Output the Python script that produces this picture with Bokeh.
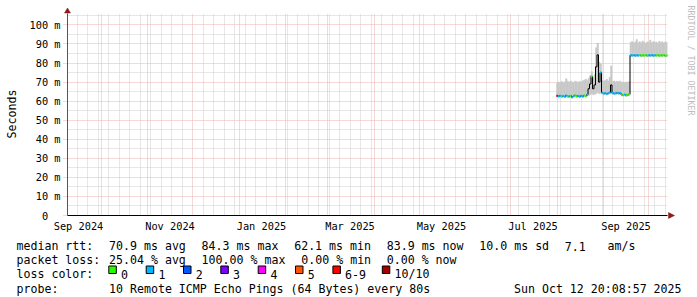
import math
import pandas as pd
from bokeh.plotting import figure
from bokeh.models import (ColumnDataSource, FixedTicker, Grid, Range1d,
                          DatetimeTickFormatter, GridBox)
from bokeh.core.properties import value
from bokeh.embed import file_html
from bokeh.resources import INLINE

# ---------------- data ----------------
series_start = "2025-07-31 16:00"      # first consolidated (1 day) step

median_ms = [62.8, 62.6, 62.9, 62.5, 62.7, 62.4, 63.0, 62.6, 62.5, 62.9,
             62.1, 62.7, 63.1, 62.6, 62.8, 62.4, 62.9, 62.5, 63.0, 62.7,
             63.4, 66.5, 69.0, 73.0, 66.5, 68.5, 78.0, 84.3, 70.0, 75.0,
             64.5, 64.0, 64.2, 63.9, 64.1, 64.6, 68.5, 64.3, 64.0, 64.2,
             64.4, 64.1, 64.3, 63.4, 63.2, 63.5, 63.1, 63.3, 63.6, 84.1,
             84.0, 84.2, 83.9, 84.1, 84.0, 84.2, 83.9, 84.1, 84.0, 84.2,
             83.9, 84.1, 84.0, 84.2, 83.9, 84.1, 84.0, 84.2, 83.9, 84.1,
             84.0, 84.2, 83.9, 83.9]

smoke_hi_ms = [69.5, 70.0, 69.8, 70.3, 69.6, 70.1, 71.8, 70.4, 69.9, 70.6,
               70.0, 69.7, 70.5, 70.2, 69.8, 70.4, 70.0, 70.7, 71.0, 71.6,
               70.8, 72.0, 73.5, 75.5, 72.5, 74.0, 88.0, 90.5, 80.5, 79.5,
               71.0, 70.5, 70.8, 71.5, 70.6, 72.5, 78.5, 70.3, 70.6, 70.1,
               70.5, 70.2, 70.6, 69.8, 70.0, 69.7, 70.1, 69.9, 70.3, 90.8,
               91.3, 90.5, 91.0, 92.3, 90.7, 91.2, 90.6, 91.5, 90.9, 90.4,
               91.1, 90.8, 92.0, 90.6, 91.3, 90.7, 91.0, 90.5, 91.4, 90.8,
               91.2, 90.6, 91.1, 90.9]

smoke_lo_ms = [62.2, 62.0, 62.3, 61.9, 62.1, 61.8, 62.4, 62.0, 61.9, 62.3,
               61.6, 62.1, 62.5, 62.0, 62.2, 61.8, 62.3, 61.9, 62.4, 62.1,
               62.8, 63.0, 63.5, 64.0, 63.4, 63.6, 64.0, 64.5, 64.0, 64.2,
               63.9, 63.4, 63.6, 63.3, 63.5, 63.9, 63.8, 63.7, 63.4, 63.6,
               63.8, 63.5, 63.7, 62.8, 62.6, 62.9, 62.5, 62.7, 63.0, 83.5,
               83.4, 83.6, 83.3, 83.5, 83.4, 83.6, 83.3, 83.5, 83.4, 83.6,
               83.3, 83.5, 83.4, 83.6, 83.3, 83.5, 83.4, 83.6, 83.3, 83.5,
               83.4, 83.6, 83.3, 83.3]

# loss bucket of the median line per step (None = averaged loss between buckets)
loss_bucket = [6, 1, 1, 0, 1, 1, 1, 0, 1, 0,
               1, 1, 0, 0, 1, 1, 1, 1, 0, 0,
               1, None, None, 0, None, None, None, None, None, 1,
               1, 1, 1, 1, 1, 1, None, 1, 1, 1,
               1, 1, 1, 0, 0, 1, 0, 0, 0, 1,
               1, 1, 1, 1, 1, 0, 0, 0, 0, 0,
               0, 1, 1, 1, 1, 1, 0, 0, 0, 0,
               0, 0, 0, 0]

loss_legend_labels = ["0", "1", "2", "3", "4", "5", "6-9", "10/10"]
loss_legend_colors = ["#26ff00", "#00b8ff", "#0059ff", "#7e00ff",
                      "#ff00ff", "#ff5500", "#ff0000", "#a10000"]
loss_bucket_colors = {0: "#26ff00", 1: "#00b8ff", 2: "#0059ff", 3: "#7e00ff",
                      4: "#ff00ff", 5: "#ff5500", 6: "#ff0000", 10: "#a10000"}

y_ticks = [0, 10, 20, 30, 40, 50, 60, 70, 80, 90, 100]
y_tick_labels = ["0\u00a0\u00a0", "10 m", "20 m", "30 m", "40 m", "50 m",
                 "60 m", "70 m", "80 m", "90 m", "100 m"]
x_label_months = ["2024-09-01", "2024-11-01", "2025-01-01", "2025-03-01",
                  "2025-05-01", "2025-07-01", "2025-09-01"]

y_title = "Seconds"
stats_median_label = "median rtt:"
stats_median = ["70.9 ms avg", "84.3 ms max", "62.1 ms min", "83.9 ms now",
                "10.0 ms sd", "7.1", "am/s"]
stats_loss_label = "packet loss:"
stats_loss = ["25.04 % avg", "100.00 % max", "0.00 % min", "0.00 % now"]
loss_color_label = "loss color:"
probe_label = "probe:"
probe_text = "10 Remote ICMP Echo Pings (64 Bytes) every 80s"
stamp_text = "Sun Oct 12 20:08:57 2025"
watermark = "RRDTOOL / TOBI OETIKER"

# ---------------- layout ----------------
W, H = 697, 297
FL, FT, FW, FH = 67, 13, 600, 202
FB = FT + FH
MONO = "DejaVu Sans Mono"
LEG_SIZE = "11.6px"
TICK_SIZE = "10.3px"

def ms(ts):
    return pd.Timestamp(ts).value / 1e6

x_start = pd.Timestamp("2024-09-08 16:00")
x_end = x_start + pd.Timedelta(days=400)

p = figure(width=W, height=H, x_axis_type="datetime", output_backend="svg",
           toolbar_location=None,
           x_range=Range1d(ms(x_start), ms(x_end)), y_range=Range1d(0, 106),
           min_border_left=FL, min_border_right=W - FL - FW,
           min_border_top=FT, min_border_bottom=H - FB)
p.outline_line_color = None
p.background_fill_color = "white"
p.border_fill_color = "white"
p.xgrid.visible = False
p.ygrid.visible = False

# grids
month_starts = [ms(t) for t in pd.date_range("2024-09-01", "2025-11-01", freq="MS")]
sundays = [ms(t) for t in pd.date_range("2024-09-01", "2025-10-20", freq="W-SUN")]
sundays = [s for s in sundays if s not in month_starts]
minor_y = [5, 15, 25, 35, 45, 55, 65, 75, 85, 95, 105]
grid_minor = "#cfcfcf"
grid_major = "#efb0b0"
for dim, ticks, col in [(0, sundays, grid_minor), (1, minor_y, grid_minor),
                        (0, month_starts, grid_major), (1, y_ticks, grid_major)]:
    p.add_layout(Grid(dimension=dim, ticker=FixedTicker(ticks=ticks),
                      grid_line_color=col, grid_line_dash="1 1", grid_line_width=1))

# smoke
t = pd.date_range(series_start, periods=len(median_ms), freq="D")
left = [ms(v) for v in t]
right = [ms(v + pd.Timedelta(days=1)) for v in t]
smoke = ColumnDataSource(dict(left=left, right=right, lo=smoke_lo_ms, hi=smoke_hi_ms))
p.quad(left="left", right="right", bottom="lo", top="hi", source=smoke,
       fill_color="#c8c8c8", line_color="#c8c8c8", line_width=0.5)

# median (dark base line, then loss-coloured segments)
p.step(left + [right[-1]], median_ms + [median_ms[-1]], mode="after",
       line_color="#000000", line_width=1)
seg = dict(x0=[], x1=[], y=[], c=[])
for l, r, m, b in zip(left, right, median_ms, loss_bucket):
    if b is None:
        continue
    seg["x0"].append(l); seg["x1"].append(r); seg["y"].append(m)
    seg["c"].append(loss_bucket_colors[b])
p.segment(x0="x0", x1="x1", y0="y", y1="y", line_color="c", line_width=2,
          source=ColumnDataSource(seg))

# axes
p.yaxis.ticker = FixedTicker(ticks=y_ticks)
p.yaxis.major_label_overrides = {v: s for v, s in zip(y_ticks, y_tick_labels)}
p.xaxis.ticker = FixedTicker(ticks=[ms(pd.Timestamp(m) + pd.Timedelta(days=15))
                                    for m in x_label_months])
fmt = "%b %Y"
p.xaxis.formatter = DatetimeTickFormatter(milliseconds=fmt, seconds=fmt, minsec=fmt,
                                          minutes=fmt, hourmin=fmt, hours=fmt,
                                          days=fmt, months=fmt, years=fmt)
for ax in (p.xaxis, p.yaxis):
    ax.major_tick_line_color = None
    ax.minor_tick_line_color = None
    ax.major_tick_in = 0
    ax.major_tick_out = 0
    ax.minor_tick_out = 0
    ax.major_label_text_font = MONO
    ax.major_label_text_font_size = TICK_SIZE
    ax.major_label_text_color = "#000000"
p.yaxis.major_tick_line_color = grid_major
p.yaxis.major_tick_line_dash = "1 1"
p.yaxis.major_tick_out = 4
p.yaxis.major_label_standoff = 3
p.xaxis.major_label_standoff = 4
p.yaxis.axis_line_color = "#555555"
p.xaxis.axis_line_color = "#000000"

# ---------------- overlay (pixel coordinates, y downwards) ----------------
ov = figure(width=W, height=H, x_range=Range1d(0, W), y_range=Range1d(H, 0),
            output_backend="svg", toolbar_location=None,
            x_axis_location=None, y_axis_location=None, min_border=0)
ov.frame_align = False
ov.grid.visible = False
ov.outline_line_color = None
ov.background_fill_alpha = 0
ov.border_fill_alpha = 0

arrow_col = "#8b1a1a"
ov.patches(xs=[[64, 70, 67], [668, 668, 674]], ys=[[12.5, 12.5, 7.5], [212, 218, 215]],
           fill_color=arrow_col, line_color=arrow_col, line_width=0.5)

ov.text(x=[11], y=[113.5], text=[y_title], angle=math.pi / 2,
        text_font=value(MONO), text_font_size=LEG_SIZE, text_color="#000000",
        text_align="center", text_baseline="middle")
ov.text(x=[690], y=[5], text=[watermark], angle=-math.pi / 2,
        text_font=value(MONO), text_font_size="8.3px", text_color="#bdbdbd",
        text_align="left", text_baseline="middle")

CW = 7.12
def col(n):
    return 16 + n * CW

b1, b2, b3, b4 = 245.5, 259.7, 273.9, 288.1
box_x = [108.3, 145.7, 183.0, 220.3, 257.7, 295.0, 332.4, 381.8]
lx, ly, lt = [], [], []
def add(px, py, s):
    lx.append(px); ly.append(py); lt.append(s)

add(col(0), b1, stats_median_label)
for n, s in zip([13, 26, 39, 52, 65, 77, 83], stats_median):
    add(col(n), b1, s)
add(col(0), b2, stats_loss_label)
for n, s in zip([13, 26, 40, 52], stats_loss):
    add(col(n), b2, s)
add(col(0), b3, loss_color_label)
for bx, lab in zip(box_x, loss_legend_labels):
    add(bx + 12.2, b3, lab)
add(col(0), b4, probe_label)
add(col(13), b4, probe_text)
add(513.5, b4, stamp_text)

ov.text(x=lx, y=ly, text=lt, text_font=value(MONO), text_font_size=LEG_SIZE,
        text_color="#000000", text_align="left", text_baseline="alphabetic")
ov.quad(left=box_x, right=[b + 7.5 for b in box_x], top=[265.5] * len(box_x),
        bottom=[273.0] * len(box_x), fill_color=loss_legend_colors,
        line_color="#000000", line_width=1)

layout = GridBox(children=[(p, 0, 0), (ov, 0, 0)])
open("out.html", "w").write(file_html(layout, INLINE))
